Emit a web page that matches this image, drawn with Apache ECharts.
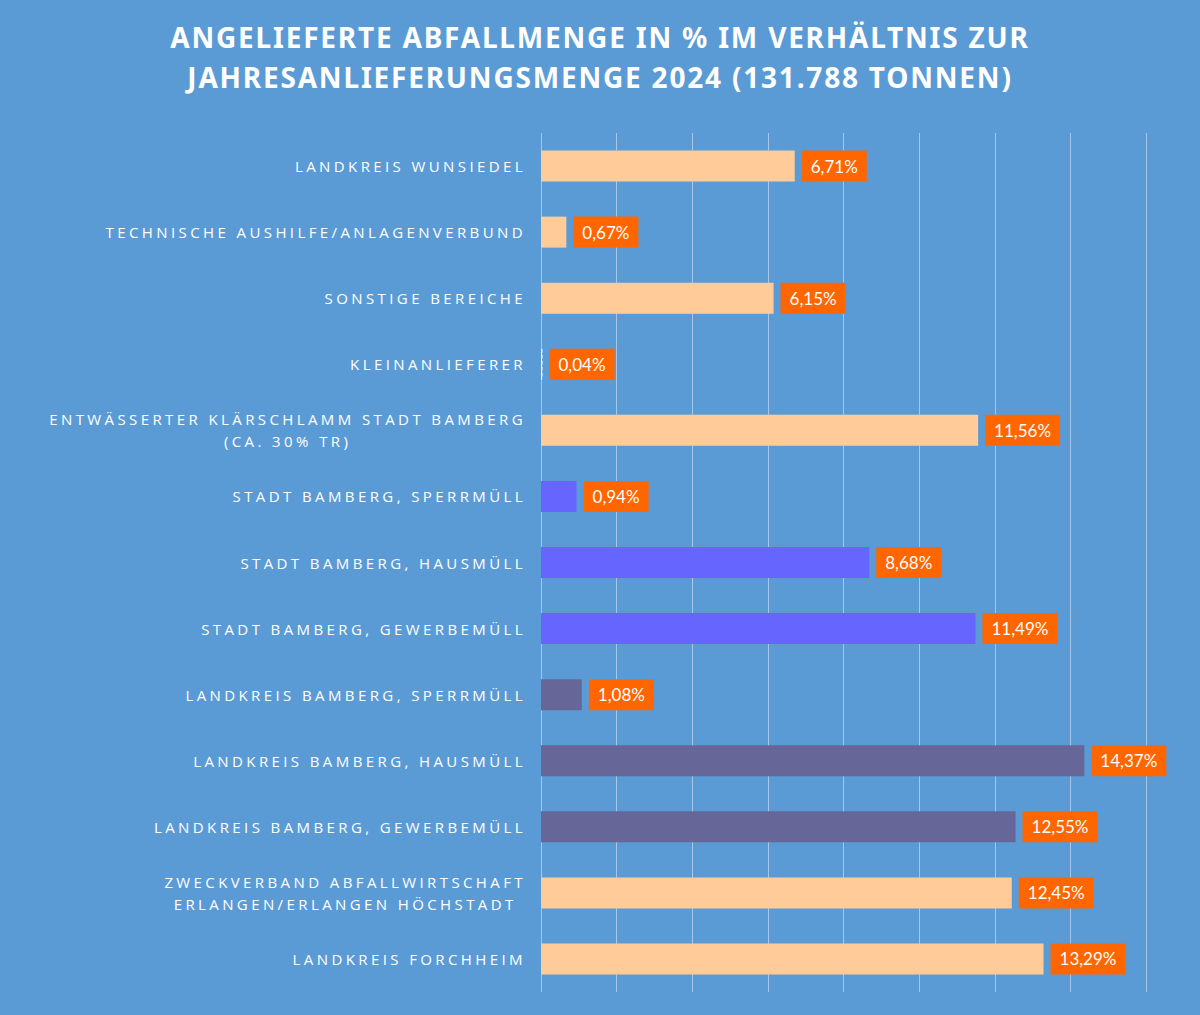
<!DOCTYPE html>
<html>
<head>
<meta charset="utf-8">
<script src="https://cdn.jsdelivr.net/npm/echarts@6/dist/echarts.min.js"></script>
<style>
  html, body { margin: 0; padding: 0; background: #5b9bd5; }
  #chart { width: 1200px; height: 1015px; }
  /* spaced caps for the category names, a little for the title */
  #chart text[style*="Open Sans"] { letter-spacing: 3.4px; }
  #chart text[style*="Noto Sans"] { letter-spacing: 1.8px; }
</style>
</head>
<body>
<div id="chart"></div>
<script>
const categories = [
  'LANDKREIS WUNSIEDEL',
  'TECHNISCHE AUSHILFE/ANLAGENVERBUND',
  'SONSTIGE BEREICHE',
  'KLEINANLIEFERER',
  'ENTWÄSSERTER KLÄRSCHLAMM STADT BAMBERG\n(CA. 30% TR)',
  'STADT BAMBERG, SPERRMÜLL',
  'STADT BAMBERG, HAUSMÜLL',
  'STADT BAMBERG, GEWERBEMÜLL',
  'LANDKREIS BAMBERG, SPERRMÜLL',
  'LANDKREIS BAMBERG, HAUSMÜLL',
  'LANDKREIS BAMBERG, GEWERBEMÜLL',
  'ZWECKVERBAND ABFALLWIRTSCHAFT\nERLANGEN/ERLANGEN HÖCHSTADT',
  'LANDKREIS FORCHHEIM'
];
const shares = [6.71, 0.67, 6.15, 0.04, 11.56, 0.94, 8.68, 11.49, 1.08, 14.37, 12.55, 12.45, 13.29];
const barColors = [
  '#ffcc99', '#ffcc99', '#ffcc99', '#ffcc99', '#ffcc99',
  '#6666ff', '#6666ff', '#6666ff',
  '#666699', '#666699', '#666699',
  '#ffcc99', '#ffcc99'
];
const titleText = 'ANGELIEFERTE ABFALLMENGE IN % IM VERHÄLTNIS ZUR\nJAHRESANLIEFERUNGSMENGE 2024 (131.788 TONNEN)';

// layout has to know about the letter spacing set in the css above
const SPACING = { 'Open Sans': 3.4, 'Noto Sans': 1.8 };
const measureCtx = document.createElement('canvas').getContext('2d');
if (echarts.setPlatformAPI) {
  echarts.setPlatformAPI({
    measureText: function (text, font) {
      measureCtx.font = font || '12px sans-serif';
      let w = measureCtx.measureText(text).width;
      for (const fam in SPACING) {
        if (font && font.indexOf(fam) >= 0) { w += SPACING[fam] * text.length; break; }
      }
      return { width: w };
    }
  });
}

const chart = echarts.init(document.getElementById('chart'), null, { renderer: 'svg' });

const barData = shares.map(function (v, i) {
  const item = { value: v, itemStyle: { color: barColors[i] } };
  if (v < 0.1) {
    item.itemStyle.borderColor = '#ffffff';
    item.itemStyle.borderWidth = 1;
    item.itemStyle.borderType = 'dashed';
  }
  return item;
});

chart.setOption({
  backgroundColor: '#5b9bd5',
  animation: false,
  title: {
    text: titleText,
    left: 'center',
    top: 12,
    textStyle: {
      color: '#ffffff',
      fontFamily: 'Noto Sans',
      fontWeight: 'bold',
      fontSize: 28,
      lineHeight: 40
    }
  },
  grid: { left: 541, right: 54, top: 133, bottom: 23 },
  xAxis: {
    type: 'value',
    min: 0,
    max: 16,
    interval: 2,
    axisLabel: { show: false },
    axisLine: { show: false },
    axisTick: { show: false },
    splitLine: { lineStyle: { color: '#a6c6ea', width: 1 } }
  },
  yAxis: {
    type: 'category',
    data: categories,
    inverse: true,
    axisLine: { show: false },
    axisTick: { show: false },
    axisLabel: {
      margin: 15,
      align: 'right',
      formatter: function (v) { return '{c|' + v + '}'; },
      rich: {
        c: {
          fontFamily: 'Open Sans',
          fontSize: 15,
          color: '#ffffff',
          align: 'center',
          lineHeight: 22
        }
      }
    }
  },
  series: [{
    type: 'bar',
    data: barData,
    barWidth: 31,
    label: {
      show: true,
      position: 'right',
      distance: 7,
      formatter: function (p) { return p.value.toFixed(2).replace('.', ',') + '%'; },
      color: '#ffffff',
      fontFamily: 'Lato',
      fontSize: 17,
      lineHeight: 19,
      backgroundColor: '#ff6600',
      padding: [6, 9]
    }
  }]
});
</script>
</body>
</html>
